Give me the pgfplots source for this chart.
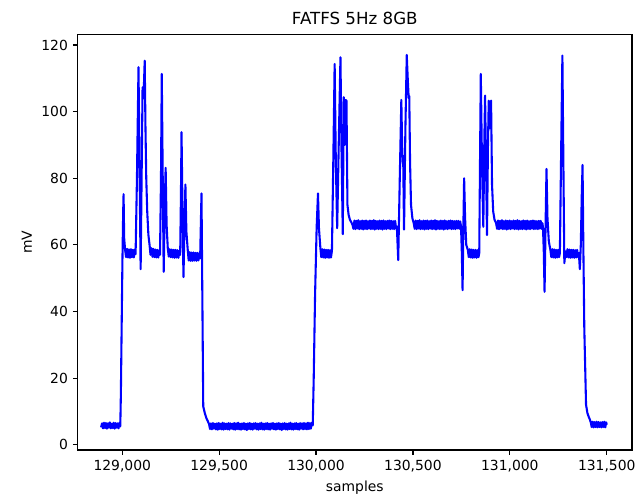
\documentclass[border=0pt]{standalone}
\usepackage{pgfplots}
\pgfplotsset{compat=1.18}
\usepackage{fontspec}
\setmainfont{DejaVu Sans}

\pgfplotstableread{
s v
128891 5.2
128896 6.4
128901 4.9
128906 6.6
128911 5.0
128916 6.5
128921 4.8
128926 6.4
128931 5.1
128936 6.7
128941 4.9
128946 6.3
128951 5.0
128956 6.6
128961 4.8
128966 6.5
128971 5.1
128976 6.4
128981 4.9
128986 6.6
128990 5.5
128993 15
128997 35
129001 55
129005 70
129007 75.2
129010 62
129015 58.4
129020 56.3
129025 58.8
129030 56.2
129035 58.6
129040 56.1
129045 58.7
129050 56.3
129055 58.5
129060 56.2
129065 58.6
129069 57.2
129076 80
129084 113.3
129089 85
129095 52.7
129105 107.3
129110 104
129116 115.3
129120 95
129124 80
129129 70
129135 63
129141 60
129146 57
129151 59
129156 56.4
129161 58.8
129166 56.3
129171 58.6
129176 56.2
129181 58.5
129186 56.2
129191 58.4
129195 57
129200 80
129204 111.3
129209 80
129214 51.9
129219 70
129224 83.1
129229 66
129235 59
129240 56.5
129245 58.7
129250 56.3
129255 58.6
129260 56.2
129265 58.5
129270 56.1
129275 58.5
129280 56.2
129285 58.4
129290 56.1
129295 58.2
129299 57
129303 75
129306 93.8
129311 70
129316 50.3
129321 65
129326 78.1
129331 64
129338 58.5
129343 55.3
129348 57.8
129353 55.2
129358 57.7
129363 55.2
129368 57.7
129373 55.3
129378 57.6
129383 55.2
129388 57.6
129393 55.3
129398 57.5
129402 56
129409 75.4
129414 40
129418 11.5
129426 9.5
129434 8
129442 7
129448 6.2
129453 4.7
129458 6.4
129463 4.6
129468 6.5
129473 4.8
129478 6.3
129483 4.6
129488 6.4
129493 4.5
129498 6.5
129503 4.7
129508 6.3
129513 4.6
129518 6.6
129523 4.5
129528 6.4
129533 4.7
129538 6.3
129543 4.6
129548 6.5
129553 4.5
129558 6.4
129563 4.8
129568 6.3
129573 4.6
129578 6.5
129583 4.5
129588 6.4
129593 4.7
129598 6.6
129603 4.6
129608 6.3
129613 4.5
129618 6.4
129623 4.7
129628 6.5
129633 4.6
129638 6.3
129643 4.4
129648 6.4
129653 4.7
129658 6.5
129663 4.6
129668 6.3
129673 4.5
129678 6.4
129683 4.8
129688 6.5
129693 4.6
129698 6.3
129703 4.5
129708 6.4
129713 4.7
129718 6.6
129723 4.6
129728 6.3
129733 4.5
129738 6.4
129743 4.7
129748 6.5
129753 4.6
129758 6.3
129763 4.5
129768 6.4
129773 4.8
129778 6.5
129783 4.6
129788 6.3
129793 4.5
129798 6.4
129803 4.7
129808 6.5
129813 4.6
129818 6.3
129823 4.4
129828 6.4
129833 4.7
129838 6.5
129843 4.6
129848 6.3
129853 4.5
129858 6.4
129863 4.7
129868 6.6
129873 4.6
129878 6.3
129883 4.5
129888 6.4
129893 4.7
129898 6.5
129903 4.6
129908 6.3
129913 4.5
129918 6.5
129923 4.8
129928 6.4
129933 4.6
129938 6.5
129943 4.7
129948 6.4
129953 4.6
129958 6.6
129963 4.7
129968 6.5
129973 4.8
129978 6.6
129983 5.8
129988 20
129995 45
130003 65
130010 75.4
130015 65
130022 59.3
130027 56.3
130032 58.7
130037 56.2
130042 58.6
130047 56.1
130052 58.5
130057 56.2
130062 58.5
130067 56.1
130072 58.4
130077 56.2
130082 58.2
130089 85
130096 114.3
130102 85
130109 65
130117 90
130126 116.3
130131 90
130138 63.2
130143 104.3
130148 90
130152 103.5
130157 103.3
130162 72
130168 69
130175 67.5
130182 66.8
130188 66
130193 64.8
130198 67.3
130203 64.7
130208 67.2
130213 64.9
130218 67.4
130223 64.7
130228 67.1
130233 64.8
130238 67.3
130243 64.6
130248 67.2
130253 64.8
130258 67.3
130263 64.7
130268 67.1
130273 64.9
130278 67.3
130283 64.7
130288 67.2
130293 64.8
130298 67.4
130303 64.6
130308 67.2
130313 64.8
130318 67.1
130323 64.7
130328 67.3
130333 64.8
130338 67.2
130343 64.6
130348 67.3
130353 64.8
130358 67.1
130363 64.7
130368 67.2
130373 64.9
130378 67.3
130383 64.7
130388 67.2
130393 64.8
130398 67.1
130403 64.7
130408 67.2
130413 64.9
130417 65.5
130424 55.4
130432 80
130440 103.5
130444 90
130447 85
130450 84
130454 64.6
130461 95
130468 117
130473 110
130478 104
130481 104.7
130485 85
130490 72
130497 68
130504 66.5
130509 64.8
130514 67.3
130519 64.7
130524 67.2
130529 64.9
130534 67.4
130539 64.7
130544 67.1
130549 64.8
130554 67.3
130559 64.6
130564 67.2
130569 64.8
130574 67.3
130579 64.7
130584 67.1
130589 64.9
130594 67.3
130599 64.7
130604 67.2
130609 64.8
130614 67.4
130619 64.6
130624 67.2
130629 64.8
130634 67.1
130639 64.7
130644 67.3
130649 64.8
130654 67.2
130659 64.6
130664 67.3
130669 64.8
130674 67.1
130679 64.7
130684 67.2
130689 64.9
130694 67.3
130699 64.7
130704 67.2
130709 64.8
130714 67.1
130719 64.7
130724 67.2
130729 64.9
130734 67.2
130739 64.8
130744 67.0
130748 65.5
130752 58
130756 46.4
130760 65
130764 80
130769 68
130775 60
130783 58.5
130788 56.3
130793 58.7
130798 56.2
130803 58.6
130808 56.1
130813 58.5
130818 56.2
130823 58.5
130828 56.1
130833 58.4
130838 56.3
130842 57.5
130846 85
130850 111.3
130856 85
130863 65.4
130868 90
130872 104.8
130877 85
130882 62.9
130887 90
130891 103.3
130897 95
130903 103.3
130908 78
130914 70
130921 67.5
130929 66.5
130934 64.8
130939 67.3
130944 64.7
130949 67.2
130954 64.9
130959 67.4
130964 64.7
130969 67.1
130974 64.8
130979 67.3
130984 64.6
130989 67.2
130994 64.8
130999 67.3
131004 64.7
131009 67.1
131014 64.9
131019 67.3
131024 64.7
131029 67.2
131034 64.8
131039 67.4
131044 64.6
131049 67.2
131054 64.8
131059 67.1
131064 64.7
131069 67.3
131074 64.8
131079 67.2
131084 64.6
131089 67.3
131094 64.8
131099 67.1
131104 64.7
131109 67.2
131114 64.9
131119 67.3
131124 64.7
131129 67.2
131134 64.8
131139 67.1
131144 64.7
131149 67.2
131154 64.9
131159 67.2
131164 64.8
131168 66.5
131171 65
131175 58
131179 45.9
131184 65
131189 82.8
131194 68
131201 61
131209 58.5
131214 56.3
131219 58.7
131224 56.2
131229 58.6
131234 56.1
131239 58.5
131244 56.2
131249 58.5
131254 56.3
131258 57.5
131265 90
131271 116.8
131276 85
131281 54.5
131287 58
131292 56.3
131297 58.7
131302 56.2
131307 58.6
131312 56.1
131317 58.5
131322 56.2
131327 58.5
131332 56.1
131337 58.4
131342 56.2
131347 58.5
131352 56.3
131356 57.5
131361 52.7
131366 60
131371 75
131375 84
131379 60
131384 35
131393 12
131400 9.5
131406 8.5
131413 7.5
131418 6.6
131422 5.3
131427 6.9
131432 5.2
131437 6.8
131442 5.3
131447 6.9
131452 5.2
131457 6.8
131462 5.3
131467 6.7
131472 5.2
131477 6.8
131482 5.3
131487 6.9
131492 5.2
131497 6.7
131500 6.0
}\signal

\begin{document}
\begin{tikzpicture}
\useasboundingbox (-55.9pt,-34.6pt) rectangle (402pt,324pt);
\begin{axis}[
  at={(0,0)}, anchor=south west,
  width=399.1pt, height=299.3pt, scale only axis,
  xmin=128770, xmax=131630,
  ymin=-1.6, ymax=123.2,
  scaled x ticks=false, scaled y ticks=false,
  xtick={129000,129500,130000,130500,131000,131500},
  xticklabels={{129,000},{129,500},{130,000},{130,500},{131,000},{131,500}},
  ytick={0,20,40,60,80,100,120},
  yticklabels={0,20,40,60,80,100,120},
  tick align=outside, tick pos=left,
  major tick length=3.5pt,
  every tick/.style={black, line width=0.8pt},
  axis line style={line width=0.8pt},
  ticklabel style={font=\fontsize{10}{12}\selectfont},
  title={FATFS 5Hz 8GB},
  title style={font=\fontsize{12}{14}\selectfont, yshift=-3pt},
  xlabel={samples}, ylabel={mV},
  label style={font=\fontsize{10}{12}\selectfont},
]
\addplot[color=blue, line width=1.5pt, line join=round] table[x=s, y=v] {\signal};
\end{axis}
\end{tikzpicture}
\end{document}
